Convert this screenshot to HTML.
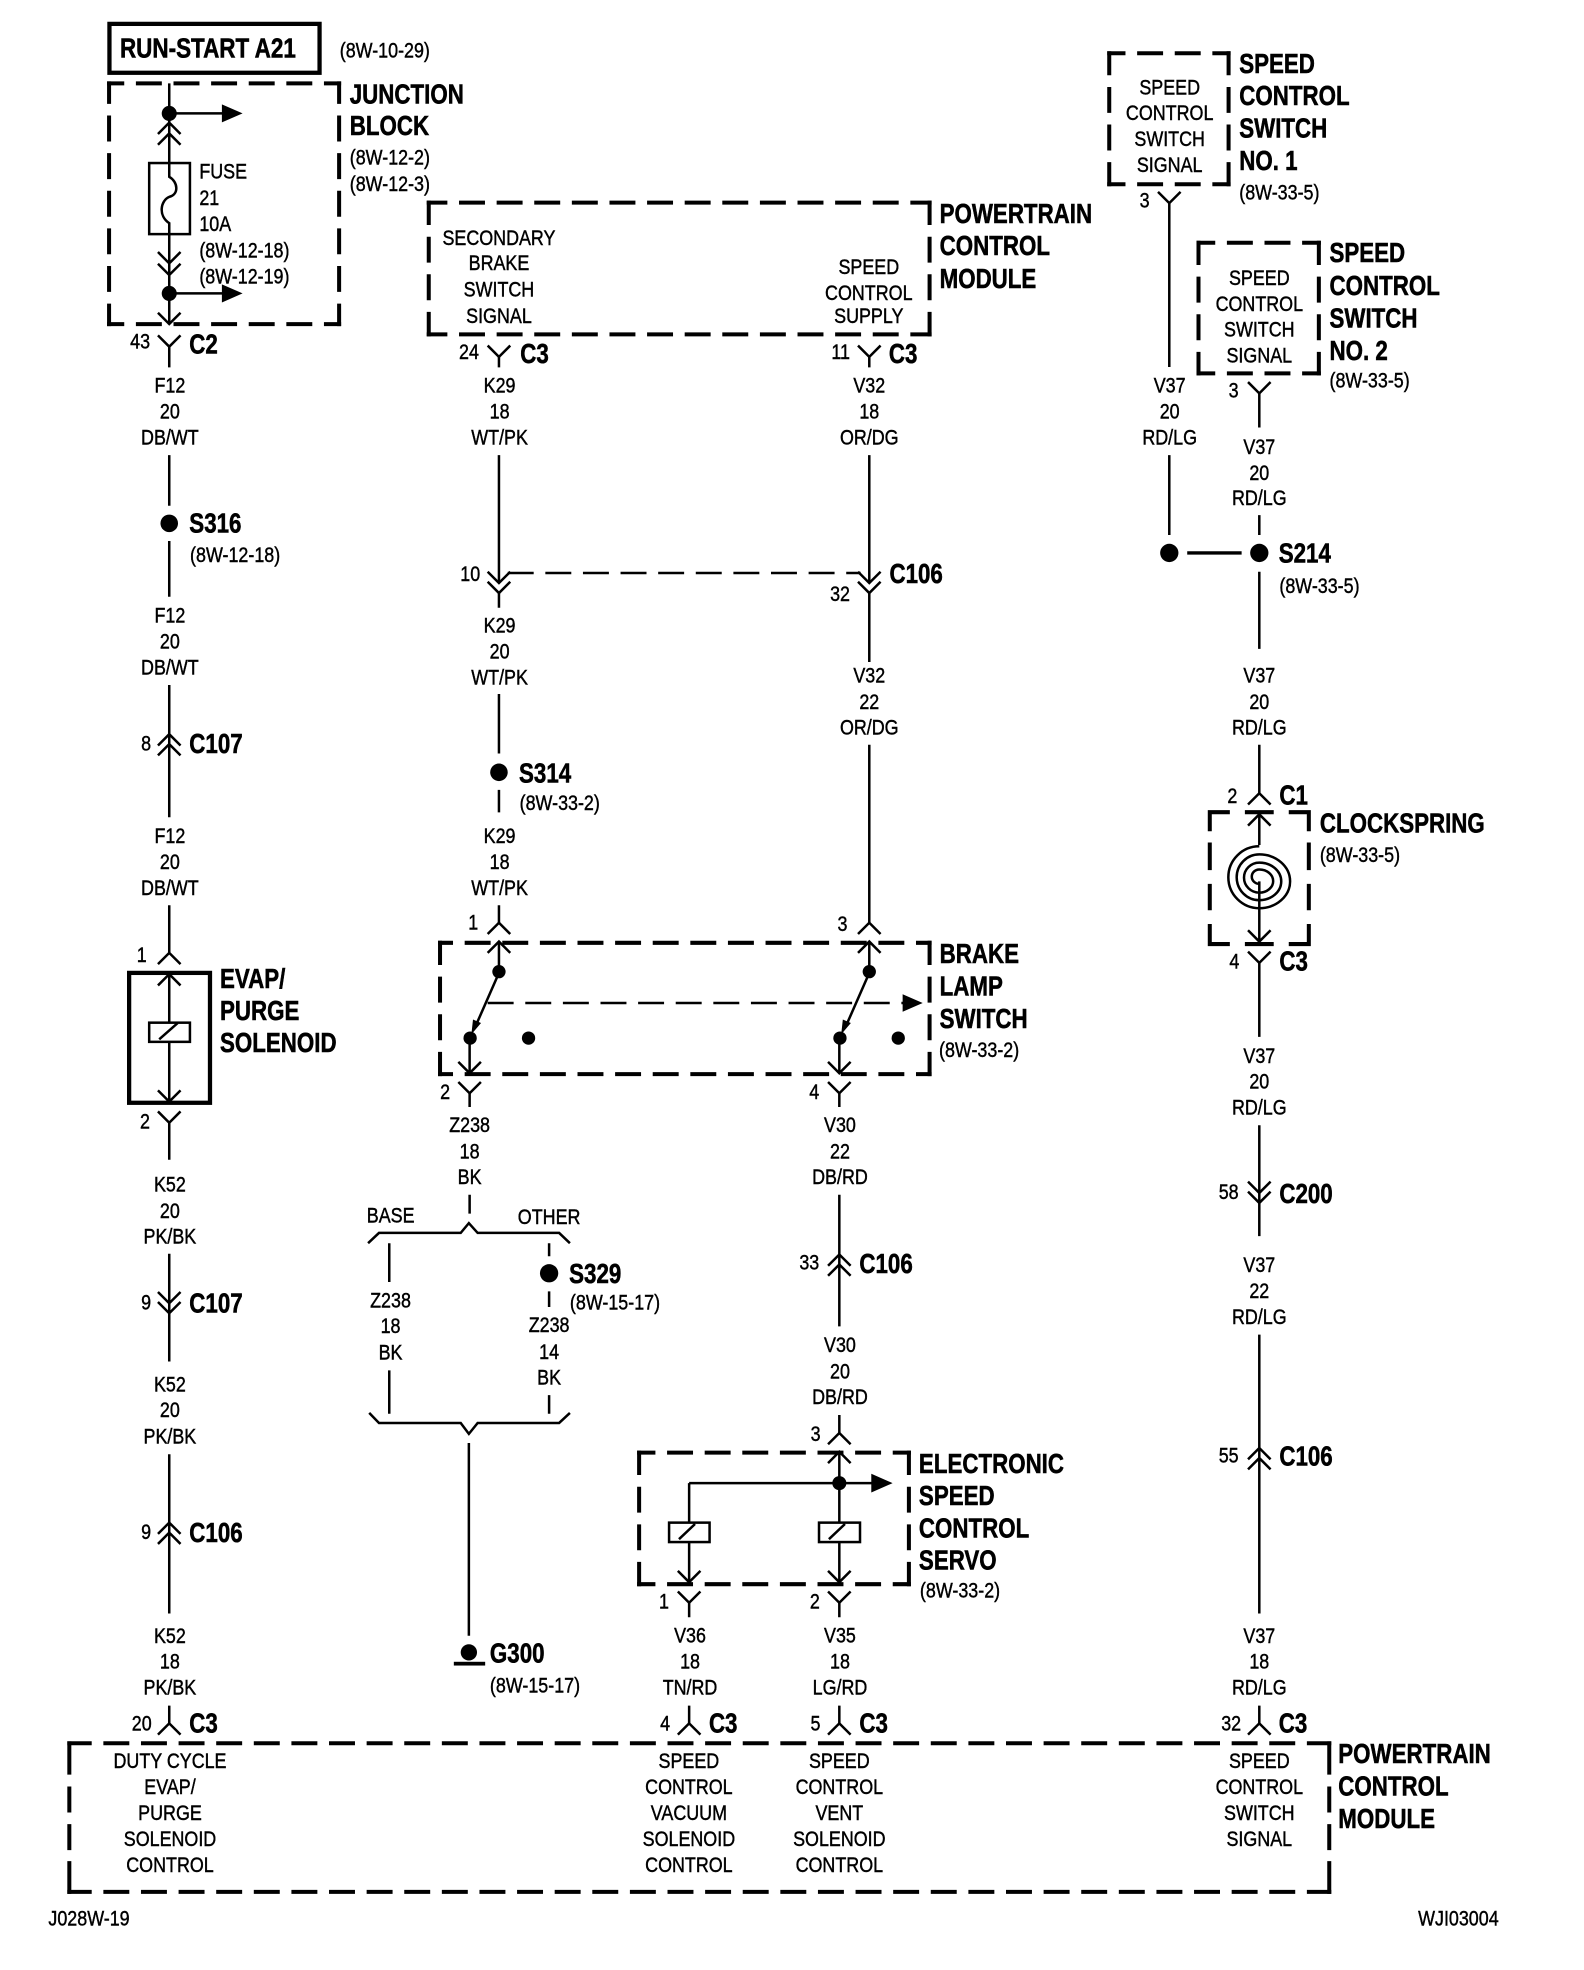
<!DOCTYPE html>
<html><head><meta charset="utf-8"><title>Speed control wiring diagram</title>
<style>
html,body{margin:0;padding:0;background:#fff}
svg{display:block}
text{font-family:"Liberation Sans",Arial,sans-serif;fill:#000}
.s,.m,.e{font-size:16.8px;stroke:#000;stroke-width:.35}
.m{text-anchor:middle}.e{text-anchor:end}
.b{font-size:22.4px;font-weight:bold;stroke:#000;stroke-width:.45}
.w{fill:none;stroke:#000;stroke-width:2}
.d{fill:none;stroke:#000;stroke-width:3.2;stroke-dasharray:17.5 12.5;stroke-linecap:square}
.t{fill:none;stroke:#000;stroke-width:3.2}
.r{fill:#fff;stroke:#000;stroke-width:2}
</style></head><body>
<svg xmlns="http://www.w3.org/2000/svg" width="1584" height="1970" viewBox="0 0 1263.5 1571.3">
<defs>
<path id="u" d="M-9 9L0 0L9 9" fill="none" stroke="#000" stroke-width="2"/>
<path id="n" d="M-9-9L0 0L9-9" fill="none" stroke="#000" stroke-width="2"/>
</defs>
<rect width="1263.5" height="1571.3" fill="#fff"/>

<!-- dashed boxes -->
<path class="d" style="stroke-dashoffset:7" d="M87 66.5H270.5M87 258.5H270.5"/>
<path class="d" style="stroke-dashoffset:2.8" d="M87 66.5V258.5M270.5 66.5V258.5"/>
<path class="d" style="stroke-dashoffset:4.25" d="M342 161.6H741.5M342 266.7H741.5"/>
<path class="d" style="stroke-dashoffset:1.25" d="M342 161.6V266.7M741.5 161.6V266.7"/>
<path class="d" style="stroke-dashoffset:6.15" d="M884.8 42.4H980M884.8 146.9H980"/>
<path class="d" style="stroke-dashoffset:1.5" d="M884.8 42.4V146.9M980 42.4V146.9"/>
<path class="d" style="stroke-dashoffset:5.75" d="M956 193.6H1052M956 297.8H1052"/>
<path class="d" style="stroke-dashoffset:1.35" d="M956 193.6V297.8M1052 193.6V297.8"/>
<path class="t" d="M965 663V647.8H981M1044 663V647.8H1028M993 647.8H1016M965 672V694M1044 672V694M965 705V726M1044 705V726M965 737V753H981M1044 737V753H1028M993 753H1016"/>
<path class="d" style="stroke-dashoffset:8.75" d="M351 752H741.5M351 856.7H741.5"/>
<path class="d" style="stroke-dashoffset:1.4" d="M351 752V856.7M741.5 752V856.7"/>
<path class="d" style="stroke-dashoffset:6.1" d="M509.8 1158.7H725M509.8 1263.6H725"/>
<path class="d" style="stroke-dashoffset:1.25" d="M509.8 1158.7V1263.6M725 1158.7V1263.6"/>
<path class="d" style="stroke-dashoffset:1.25" d="M55.3 1390.5H1060.3M55.3 1509H1060.3"/>
<path class="t" d="M55.3 1389V1415.5M55.3 1425V1445.7M55.3 1455V1475.7M55.3 1484.5V1510.6M1060.3 1389V1415.5M1060.3 1425V1445.7M1060.3 1455V1475.7M1060.3 1484.5V1510.6"/>

<!-- solid boxes -->
<rect x="87.3" y="19" width="167.6" height="39" fill="none" stroke="#000" stroke-width="3.4"/>
<rect x="103" y="776" width="64.5" height="103.6" fill="none" stroke="#000" stroke-width="3.4"/>

<!-- wires -->
<path class="w" d="M135 66.5V141C142 145 143 155 135 157C128 160 126 172 135 178V258
M135 90.4H178M135 234H178
M135 276.5V293M135 363V403.4M135 431.5V476M135 546.4V651.8M135 722V760M135 777V879M135 895.5V925M135 1000V1086M135 1160V1287M135 1360.5V1374.6
M398 284.6V293M398 363V465M398 473V484.7M398 553.5V601M398 630V648M398 722V736M398 751V776
M693.4 284.6V293M693.4 363V465M693.4 473V528M693.4 594V736M693.4 751V776
M398 776L380 817M693.4 776L675.4 817
M374.6 830V856M374.6 872V883M374.6 953V968
M669.5 830V856M669.5 872V883M669.5 953V1058M669.5 1128.6V1143M669.5 1158V1262M669.5 1278.4V1290M669.5 1360.5V1374.6
M549.7 1183V1262M549.7 1278.4V1290M549.7 1360.5V1374.6M549.7 1183H696
M932.7 162V292.7M932.7 363V426.7
M1004.5 313.7V341M1004.5 410.8V426.7M1004.5 456V517.5M1004.5 594V632.7M1004.5 649.5V674M1004.5 703V751M1004.5 768V827M1004.5 897.5V986M1004.5 1064.5V1287M1004.5 1360.5V1374.6
M293.6 991.6L302.3 983.4H367.5L374 975.6L381 983.4H446L454.6 991.6
M294.5 1127L302.3 1135H367.5L374 1143.7L381 1135H446L454.6 1127
M310.5 991.6V1022.6M310.5 1093V1127.6M438 991.6V1002M438 1030V1042.5M438 1112.8V1127.6M374 1151V1304.7"/>
<path d="M947 441H990.4" fill="none" stroke="#000" stroke-width="2.7"/>
<path class="w" stroke-dasharray="20.7 9.3" stroke-dashoffset="0" d="M405 457H686.5M389 800H722"/>

<!-- fuse -->
<rect x="119" y="130" width="32.5" height="56.7" fill="none" stroke="#000" stroke-width="2"/>
<!-- spiral -->
<path class="w" d="M1004.5 675A24.7 24.7 0 0 0 1004.5 724.4A24.5 21.4 0 0 0 1004.5 681.5A18 18.2 0 0 0 1004.5 718A17.5 15 0 0 0 1004.5 688A12.2 12 0 0 0 1004.5 712A11 9.2 0 0 0 1004.5 693.5A6 5.75 0 0 0 1004.5 705"/>

<!-- solenoids -->
<rect class="r" x="119" y="815.7" width="32.5" height="15.3"/>
<path class="w" d="M127 829L141.7 816"/>
<rect class="r" x="533.7" y="1214.5" width="32.3" height="15.5"/>
<path class="w" d="M541.6 1227.7L554.4 1215.6"/>
<rect class="r" x="653.3" y="1214.5" width="32.7" height="15.5"/>
<path class="w" d="M661.2 1227.7L674 1215.6"/>

<!-- triangles -->
<path d="M177 83.2V97.6L193.5 90.4Z M177 226.8V241.2L193.5 234Z M720 793V807L736 800Z M695 1175.5V1190.5L712 1183Z M376 825L383.7 816L377.3 813.2Z M671 825L678.7 816L672.3 813.2Z"/>

<!-- dots -->
<g>
<circle cx="135" cy="90.4" r="6"/><circle cx="135" cy="234" r="6"/>
<circle cx="135" cy="417.4" r="7"/><circle cx="398" cy="616" r="7"/>
<circle cx="398" cy="775" r="5.3"/><circle cx="375" cy="828" r="5.3"/><circle cx="421.6" cy="828" r="5.3"/>
<circle cx="693.4" cy="775" r="5.3"/><circle cx="670" cy="828" r="5.3"/><circle cx="716.5" cy="828" r="5.3"/>
<circle cx="438" cy="1015.6" r="7.3"/><circle cx="669.5" cy="1183" r="5.6"/>
<circle cx="932.7" cy="441" r="7.3"/><circle cx="1004.5" cy="441" r="7.3"/>
<circle cx="374" cy="1318" r="6.5"/><rect x="362" y="1325.5" width="25" height="3"/>
</g>

<!-- connector glyphs -->
<use href="#u" x="135" y="97.8"/><use href="#u" x="135" y="106.4"/>
<use href="#n" x="135" y="210"/><use href="#n" x="135" y="219.3"/>
<use href="#n" x="135" y="258.4"/><use href="#n" x="135" y="276.5"/>
<use href="#u" x="135" y="585.6"/><use href="#u" x="135" y="593.5"/>
<use href="#u" x="135" y="760"/><use href="#u" x="135" y="777"/>
<use href="#n" x="135" y="878.7"/><use href="#n" x="135" y="895.5"/>
<use href="#n" x="135" y="1039.5"/><use href="#n" x="135" y="1047.5"/>
<use href="#u" x="135" y="1214.5"/><use href="#u" x="135" y="1222.5"/>
<use href="#u" x="135" y="1374.6"/>
<use href="#n" x="398" y="284.6"/><use href="#n" x="693.4" y="284.6"/>
<use href="#n" x="398" y="465"/><use href="#n" x="398" y="473"/>
<use href="#n" x="693.4" y="465"/><use href="#n" x="693.4" y="473"/>
<use href="#u" x="398" y="736"/><use href="#u" x="398" y="751"/>
<use href="#u" x="693.4" y="736"/><use href="#u" x="693.4" y="751"/>
<use href="#n" x="374.6" y="856"/><use href="#n" x="374.6" y="872"/>
<use href="#n" x="669.5" y="856"/><use href="#n" x="669.5" y="872"/>
<use href="#u" x="669.5" y="1000.6"/><use href="#u" x="669.5" y="1008.6"/>
<use href="#u" x="669.5" y="1143"/><use href="#u" x="669.5" y="1158"/>
<use href="#n" x="549.7" y="1262"/><use href="#n" x="549.7" y="1278.4"/>
<use href="#n" x="669.5" y="1262"/><use href="#n" x="669.5" y="1278.4"/>
<use href="#u" x="549.7" y="1374.6"/><use href="#u" x="669.5" y="1374.6"/><use href="#u" x="1004.5" y="1374.6"/>
<use href="#n" x="932.7" y="162"/><use href="#n" x="1004.5" y="313.7"/>
<use href="#u" x="1004.5" y="632.7"/><use href="#u" x="1004.5" y="649.5"/>
<use href="#n" x="1004.5" y="751"/><use href="#n" x="1004.5" y="768"/>
<use href="#n" x="1004.5" y="951.5"/><use href="#n" x="1004.5" y="959.5"/>
<use href="#u" x="1004.5" y="1155"/><use href="#u" x="1004.5" y="1163"/>

<!-- bold labels -->
<text class="b" transform="matrix(.8 0 0 1 95.7 45.7)">RUN-START A21</text>
<text class="b" transform="matrix(.795 0 0 1 279 82.4)">JUNCTION</text>
<text class="b" transform="matrix(.795 0 0 1 279 107.7)">BLOCK</text>
<text class="b" transform="matrix(.795 0 0 1 151 281.8)">C2</text>
<text class="b" transform="matrix(.795 0 0 1 151 424.8)">S316</text>
<text class="b" transform="matrix(.795 0 0 1 151 600.4)">C107</text>
<text class="b" transform="matrix(.795 0 0 1 175.5 788)">EVAP/</text>
<text class="b" transform="matrix(.795 0 0 1 175.5 813.6)">PURGE</text>
<text class="b" transform="matrix(.795 0 0 1 175.5 839)">SOLENOID</text>
<text class="b" transform="matrix(.795 0 0 1 151 1047)">C107</text>
<text class="b" transform="matrix(.795 0 0 1 151 1230)">C106</text>
<text class="b" transform="matrix(.795 0 0 1 151 1382)">C3</text>
<text class="b" transform="matrix(.795 0 0 1 749.5 178)">POWERTRAIN</text>
<text class="b" transform="matrix(.795 0 0 1 749.5 203.5)">CONTROL</text>
<text class="b" transform="matrix(.795 0 0 1 749.5 229.5)">MODULE</text>
<text class="b" transform="matrix(.795 0 0 1 415 289.7)">C3</text>
<text class="b" transform="matrix(.795 0 0 1 709 289.7)">C3</text>
<text class="b" transform="matrix(.795 0 0 1 709.5 465)">C106</text>
<text class="b" transform="matrix(.795 0 0 1 414 624)">S314</text>
<text class="b" transform="matrix(.795 0 0 1 749.5 768)">BRAKE</text>
<text class="b" transform="matrix(.795 0 0 1 749.5 794)">LAMP</text>
<text class="b" transform="matrix(.795 0 0 1 749.5 820)">SWITCH</text>
<text class="b" transform="matrix(.795 0 0 1 454 1023.5)">S329</text>
<text class="b" transform="matrix(.795 0 0 1 390.8 1326)">G300</text>
<text class="b" transform="matrix(.795 0 0 1 685.5 1015.5)">C106</text>
<text class="b" transform="matrix(.795 0 0 1 733 1175)">ELECTRONIC</text>
<text class="b" transform="matrix(.795 0 0 1 733 1200.4)">SPEED</text>
<text class="b" transform="matrix(.795 0 0 1 733 1226.5)">CONTROL</text>
<text class="b" transform="matrix(.795 0 0 1 733 1252)">SERVO</text>
<text class="b" transform="matrix(.795 0 0 1 565.5 1382)">C3</text>
<text class="b" transform="matrix(.795 0 0 1 685.5 1382)">C3</text>
<text class="b" transform="matrix(.795 0 0 1 1020 1382)">C3</text>
<text class="b" transform="matrix(.795 0 0 1 988.5 58)">SPEED</text>
<text class="b" transform="matrix(.795 0 0 1 988.5 83.8)">CONTROL</text>
<text class="b" transform="matrix(.795 0 0 1 988.5 109.5)">SWITCH</text>
<text class="b" transform="matrix(.795 0 0 1 988.5 135.6)">NO. 1</text>
<text class="b" transform="matrix(.795 0 0 1 1060.5 209)">SPEED</text>
<text class="b" transform="matrix(.795 0 0 1 1060.5 235.3)">CONTROL</text>
<text class="b" transform="matrix(.795 0 0 1 1060.5 261)">SWITCH</text>
<text class="b" transform="matrix(.795 0 0 1 1060.5 287)">NO. 2</text>
<text class="b" transform="matrix(.795 0 0 1 1020 448.8)">S214</text>
<text class="b" transform="matrix(.795 0 0 1 1020.5 641.7)">C1</text>
<text class="b" transform="matrix(.795 0 0 1 1052.8 664)">CLOCKSPRING</text>
<text class="b" transform="matrix(.795 0 0 1 1020.5 774)">C3</text>
<text class="b" transform="matrix(.795 0 0 1 1020.5 959.5)">C200</text>
<text class="b" transform="matrix(.795 0 0 1 1020.5 1169)">C106</text>
<text class="b" transform="matrix(.795 0 0 1 1067.5 1406.3)">POWERTRAIN</text>
<text class="b" transform="matrix(.795 0 0 1 1067.5 1432.3)">CONTROL</text>
<text class="b" transform="matrix(.795 0 0 1 1067.5 1458)">MODULE</text>

<g transform="translate(0 -.6)">
<!-- left aligned small -->
<text class="s" transform="matrix(.85 0 0 1 271 46.5)">(8W-10-29)</text>
<text class="s" transform="matrix(.85 0 0 1 279 131.6)">(8W-12-2)</text>
<text class="s" transform="matrix(.85 0 0 1 279 152.9)">(8W-12-3)</text>
<text class="s" transform="matrix(.85 0 0 1 159 143)">FUSE</text>
<text class="s" transform="matrix(.85 0 0 1 159 164)">21</text>
<text class="s" transform="matrix(.85 0 0 1 159 184.8)">10A</text>
<text class="s" transform="matrix(.85 0 0 1 159 206)">(8W-12-18)</text>
<text class="s" transform="matrix(.85 0 0 1 159 226.7)">(8W-12-19)</text>
<text class="s" transform="matrix(.85 0 0 1 151.6 449)">(8W-12-18)</text>
<text class="s" transform="matrix(.85 0 0 1 414.5 646.6)">(8W-33-2)</text>
<text class="s" transform="matrix(.85 0 0 1 749 843.5)">(8W-33-2)</text>
<text class="s" transform="matrix(.85 0 0 1 454.6 1045)">(8W-15-17)</text>
<text class="s" transform="matrix(.85 0 0 1 390.8 1350.6)">(8W-15-17)</text>
<text class="s" transform="matrix(.85 0 0 1 733.8 1274.7)">(8W-33-2)</text>
<text class="s" transform="matrix(.85 0 0 1 988.5 159.5)">(8W-33-5)</text>
<text class="s" transform="matrix(.85 0 0 1 1060.5 309.6)">(8W-33-5)</text>
<text class="s" transform="matrix(.85 0 0 1 1020.5 473.5)">(8W-33-5)</text>
<text class="s" transform="matrix(.85 0 0 1 1052.8 688)">(8W-33-5)</text>

<!-- pin numbers -->
<text class="e" transform="matrix(.85 0 0 1 119.7 278.4)">43</text>
<text class="e" transform="matrix(.85 0 0 1 120.5 599)">8</text>
<text class="e" transform="matrix(.85 0 0 1 117 768)">1</text>
<text class="e" transform="matrix(.85 0 0 1 119.6 900.7)">2</text>
<text class="e" transform="matrix(.85 0 0 1 120.5 1045)">9</text>
<text class="e" transform="matrix(.85 0 0 1 120.5 1228)">9</text>
<text class="e" transform="matrix(.85 0 0 1 121 1381)">20</text>
<text class="e" transform="matrix(.85 0 0 1 382 287)">24</text>
<text class="e" transform="matrix(.85 0 0 1 678 287)">11</text>
<text class="e" transform="matrix(.85 0 0 1 383 464)">10</text>
<text class="e" transform="matrix(.85 0 0 1 678 480)">32</text>
<text class="e" transform="matrix(.85 0 0 1 381.5 742)">1</text>
<text class="e" transform="matrix(.85 0 0 1 676 743)">3</text>
<text class="e" transform="matrix(.85 0 0 1 359 877)">2</text>
<text class="e" transform="matrix(.85 0 0 1 653.5 877)">4</text>
<text class="e" transform="matrix(.85 0 0 1 653.5 1013)">33</text>
<text class="e" transform="matrix(.85 0 0 1 654.6 1150)">3</text>
<text class="e" transform="matrix(.85 0 0 1 533.6 1283.6)">1</text>
<text class="e" transform="matrix(.85 0 0 1 654 1283.6)">2</text>
<text class="e" transform="matrix(.85 0 0 1 534.5 1381)">4</text>
<text class="e" transform="matrix(.85 0 0 1 654.5 1381)">5</text>
<text class="e" transform="matrix(.85 0 0 1 990 1381)">32</text>
<text class="e" transform="matrix(.85 0 0 1 917 166)">3</text>
<text class="e" transform="matrix(.85 0 0 1 988 317.6)">3</text>
<text class="e" transform="matrix(.85 0 0 1 987 641)">2</text>
<text class="e" transform="matrix(.85 0 0 1 988.6 773)">4</text>
<text class="e" transform="matrix(.85 0 0 1 988 957)">58</text>
<text class="e" transform="matrix(.85 0 0 1 988 1167)">55</text>

<!-- centered wire and module labels -->
<text class="m" transform="matrix(.85 0 0 1 135.5 313.7)">F12</text>
<text class="m" transform="matrix(.85 0 0 1 135.5 334.4)">20</text>
<text class="m" transform="matrix(.85 0 0 1 135.5 355)">DB/WT</text>
<text class="m" transform="matrix(.85 0 0 1 135.5 497)">F12</text>
<text class="m" transform="matrix(.85 0 0 1 135.5 517.7)">20</text>
<text class="m" transform="matrix(.85 0 0 1 135.5 538.4)">DB/WT</text>
<text class="m" transform="matrix(.85 0 0 1 135.5 673)">F12</text>
<text class="m" transform="matrix(.85 0 0 1 135.5 693.9)">20</text>
<text class="m" transform="matrix(.85 0 0 1 135.5 714.5)">DB/WT</text>
<text class="m" transform="matrix(.85 0 0 1 135.5 951)">K52</text>
<text class="m" transform="matrix(.85 0 0 1 135.5 972)">20</text>
<text class="m" transform="matrix(.85 0 0 1 135.5 992.5)">PK/BK</text>
<text class="m" transform="matrix(.85 0 0 1 135.5 1110.5)">K52</text>
<text class="m" transform="matrix(.85 0 0 1 135.5 1131)">20</text>
<text class="m" transform="matrix(.85 0 0 1 135.5 1152)">PK/BK</text>
<text class="m" transform="matrix(.85 0 0 1 135.5 1311)">K52</text>
<text class="m" transform="matrix(.85 0 0 1 135.5 1331.5)">18</text>
<text class="m" transform="matrix(.85 0 0 1 135.5 1352)">PK/BK</text>

<text class="m" transform="matrix(.85 0 0 1 398 196)">SECONDARY</text>
<text class="m" transform="matrix(.85 0 0 1 398 216)">BRAKE</text>
<text class="m" transform="matrix(.85 0 0 1 398 237)">SWITCH</text>
<text class="m" transform="matrix(.85 0 0 1 398 258)">SIGNAL</text>
<text class="m" transform="matrix(.85 0 0 1 693 219)">SPEED</text>
<text class="m" transform="matrix(.85 0 0 1 693 240)">CONTROL</text>
<text class="m" transform="matrix(.85 0 0 1 693 258)">SUPPLY</text>

<text class="m" transform="matrix(.85 0 0 1 398.5 313.7)">K29</text>
<text class="m" transform="matrix(.85 0 0 1 398.5 334.4)">18</text>
<text class="m" transform="matrix(.85 0 0 1 398.5 355)">WT/PK</text>
<text class="m" transform="matrix(.85 0 0 1 398.5 505)">K29</text>
<text class="m" transform="matrix(.85 0 0 1 398.5 526)">20</text>
<text class="m" transform="matrix(.85 0 0 1 398.5 546.5)">WT/PK</text>
<text class="m" transform="matrix(.85 0 0 1 398.5 673)">K29</text>
<text class="m" transform="matrix(.85 0 0 1 398.5 693.9)">18</text>
<text class="m" transform="matrix(.85 0 0 1 398.5 714.5)">WT/PK</text>

<text class="m" transform="matrix(.85 0 0 1 693.4 313.7)">V32</text>
<text class="m" transform="matrix(.85 0 0 1 693.4 334.4)">18</text>
<text class="m" transform="matrix(.85 0 0 1 693.4 355)">OR/DG</text>
<text class="m" transform="matrix(.85 0 0 1 693.4 545)">V32</text>
<text class="m" transform="matrix(.85 0 0 1 693.4 566)">22</text>
<text class="m" transform="matrix(.85 0 0 1 693.4 586.5)">OR/DG</text>

<text class="m" transform="matrix(.85 0 0 1 374.6 903.7)">Z238</text>
<text class="m" transform="matrix(.85 0 0 1 374.6 924.7)">18</text>
<text class="m" transform="matrix(.85 0 0 1 374.6 945)">BK</text>
<text class="m" transform="matrix(.85 0 0 1 670 903.7)">V30</text>
<text class="m" transform="matrix(.85 0 0 1 670 924.7)">22</text>
<text class="m" transform="matrix(.85 0 0 1 670 945)">DB/RD</text>
<text class="m" transform="matrix(.85 0 0 1 311.6 975.6)">BASE</text>
<text class="m" transform="matrix(.85 0 0 1 438 977)">OTHER</text>
<text class="m" transform="matrix(.85 0 0 1 311.5 1043.3)">Z238</text>
<text class="m" transform="matrix(.85 0 0 1 311.5 1064)">18</text>
<text class="m" transform="matrix(.85 0 0 1 311.5 1085)">BK</text>
<text class="m" transform="matrix(.85 0 0 1 438 1063)">Z238</text>
<text class="m" transform="matrix(.85 0 0 1 438 1084.5)">14</text>
<text class="m" transform="matrix(.85 0 0 1 438 1105)">BK</text>
<text class="m" transform="matrix(.85 0 0 1 670 1079)">V30</text>
<text class="m" transform="matrix(.85 0 0 1 670 1100)">20</text>
<text class="m" transform="matrix(.85 0 0 1 670 1120.5)">DB/RD</text>
<text class="m" transform="matrix(.85 0 0 1 550.4 1310.8)">V36</text>
<text class="m" transform="matrix(.85 0 0 1 550.4 1331.3)">18</text>
<text class="m" transform="matrix(.85 0 0 1 550.4 1352)">TN/RD</text>
<text class="m" transform="matrix(.85 0 0 1 670 1310.8)">V35</text>
<text class="m" transform="matrix(.85 0 0 1 670 1331.3)">18</text>
<text class="m" transform="matrix(.85 0 0 1 670 1352)">LG/RD</text>

<text class="m" transform="matrix(.85 0 0 1 933 75.8)">SPEED</text>
<text class="m" transform="matrix(.85 0 0 1 933 96.3)">CONTROL</text>
<text class="m" transform="matrix(.85 0 0 1 933 117)">SWITCH</text>
<text class="m" transform="matrix(.85 0 0 1 933 137.7)">SIGNAL</text>
<text class="m" transform="matrix(.85 0 0 1 1004.5 228)">SPEED</text>
<text class="m" transform="matrix(.85 0 0 1 1004.5 248.6)">CONTROL</text>
<text class="m" transform="matrix(.85 0 0 1 1004.5 269)">SWITCH</text>
<text class="m" transform="matrix(.85 0 0 1 1004.5 289.8)">SIGNAL</text>

<text class="m" transform="matrix(.85 0 0 1 933 313.7)">V37</text>
<text class="m" transform="matrix(.85 0 0 1 933 334.4)">20</text>
<text class="m" transform="matrix(.85 0 0 1 933 355)">RD/LG</text>
<text class="m" transform="matrix(.85 0 0 1 1004.5 362.5)">V37</text>
<text class="m" transform="matrix(.85 0 0 1 1004.5 383.5)">20</text>
<text class="m" transform="matrix(.85 0 0 1 1004.5 403.5)">RD/LG</text>
<text class="m" transform="matrix(.85 0 0 1 1004.5 545)">V37</text>
<text class="m" transform="matrix(.85 0 0 1 1004.5 566)">20</text>
<text class="m" transform="matrix(.85 0 0 1 1004.5 586.5)">RD/LG</text>
<text class="m" transform="matrix(.85 0 0 1 1004.5 848.5)">V37</text>
<text class="m" transform="matrix(.85 0 0 1 1004.5 869)">20</text>
<text class="m" transform="matrix(.85 0 0 1 1004.5 889.5)">RD/LG</text>
<text class="m" transform="matrix(.85 0 0 1 1004.5 1015)">V37</text>
<text class="m" transform="matrix(.85 0 0 1 1004.5 1036)">22</text>
<text class="m" transform="matrix(.85 0 0 1 1004.5 1056.5)">RD/LG</text>
<text class="m" transform="matrix(.85 0 0 1 1004.5 1311)">V37</text>
<text class="m" transform="matrix(.85 0 0 1 1004.5 1331.5)">18</text>
<text class="m" transform="matrix(.85 0 0 1 1004.5 1352)">RD/LG</text>

<text class="m" transform="matrix(.85 0 0 1 135.6 1411)">DUTY CYCLE</text>
<text class="m" transform="matrix(.85 0 0 1 135.6 1431.7)">EVAP/</text>
<text class="m" transform="matrix(.85 0 0 1 135.6 1452.2)">PURGE</text>
<text class="m" transform="matrix(.85 0 0 1 135.6 1473)">SOLENOID</text>
<text class="m" transform="matrix(.85 0 0 1 135.6 1493.6)">CONTROL</text>
<text class="m" transform="matrix(.85 0 0 1 549.5 1411)">SPEED</text>
<text class="m" transform="matrix(.85 0 0 1 549.5 1431.7)">CONTROL</text>
<text class="m" transform="matrix(.85 0 0 1 549.5 1452.2)">VACUUM</text>
<text class="m" transform="matrix(.85 0 0 1 549.5 1473)">SOLENOID</text>
<text class="m" transform="matrix(.85 0 0 1 549.5 1493.6)">CONTROL</text>
<text class="m" transform="matrix(.85 0 0 1 669.5 1411)">SPEED</text>
<text class="m" transform="matrix(.85 0 0 1 669.5 1431.7)">CONTROL</text>
<text class="m" transform="matrix(.85 0 0 1 669.5 1452.2)">VENT</text>
<text class="m" transform="matrix(.85 0 0 1 669.5 1473)">SOLENOID</text>
<text class="m" transform="matrix(.85 0 0 1 669.5 1493.6)">CONTROL</text>
<text class="m" transform="matrix(.85 0 0 1 1004.5 1411)">SPEED</text>
<text class="m" transform="matrix(.85 0 0 1 1004.5 1431.7)">CONTROL</text>
<text class="m" transform="matrix(.85 0 0 1 1004.5 1452.2)">SWITCH</text>
<text class="m" transform="matrix(.85 0 0 1 1004.5 1473)">SIGNAL</text>
<text class="m" transform="matrix(.85 0 0 1 71 1536.6)">J028W-19</text>
<text class="m" transform="matrix(.85 0 0 1 1163.3 1536.6)">WJI03004</text>
</g>
</svg>
</body></html>
